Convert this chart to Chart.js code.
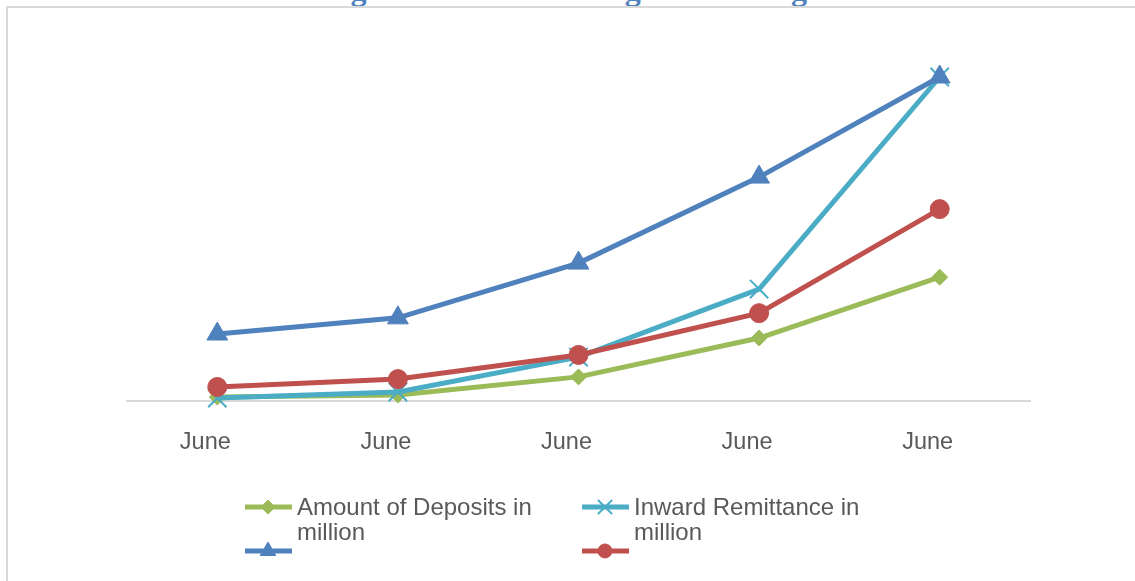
<!DOCTYPE html>
<html>
<head>
<meta charset="utf-8">
<title>Growth of Agent Banking Activities</title>
<script src="https://cdn.jsdelivr.net/npm/chart.js@4.4.1/dist/chart.umd.min.js"></script>
<style>
  html, body { margin: 0; padding: 0; background: #fff; width: 1135px; height: 581px; overflow: hidden; }
  #title { position: absolute; left: 322px; top: -29px; line-height: 36px; font: bold 32px "Liberation Serif", "Times New Roman", serif; color: #4f81bd; white-space: nowrap; }
  #frame { position: absolute; left: 6px; top: 6px; width: 1300px; height: 700px; border-top: 2px solid #d9d9d9; border-left: 2px solid #d9d9d9; background: transparent; }
  #chart { position: absolute; left: 0; top: 0; }
</style>
</head>
<body>
<div id="title">Figure 1: Growth of Agent Banking Activities</div>
<div id="frame"></div>
<canvas id="chart" width="1135" height="581"></canvas>
<script>
// values (no y axis shown, so units are relative)
const categories = ['June', 'June', 'June', 'June', 'June'];
const depositLabel = 'Amount of Deposits in million';
const deposits = [1.1, 1.7, 6.7, 17.5, 34.4];
const remittanceLabel = 'Inward Remittance in million';
const remittance = [0.8, 2.5, 12.2, 31.1, 90];
const blueLabel = '';
const blueValues = [18.6, 23.1, 38.3, 62.2, 90];
const redLabel = '';
const redValues = [3.9, 6.1, 12.8, 24.4, 53.3];
const yMin = 0;
const yMax = 100;

const FONT = '"Liberation Sans", Arial, sans-serif';
const TEXT = '#595959';

// legend slots (Excel style, 2 columns)
const legendSlots = [
  { x: 245, y: 507 },
  { x: 582, y: 507 },
  { x: 245, y: 551 },
  { x: 582, y: 551 }
];

function wrapText(ctx, text, maxW) {
  if (!text) return [];
  const words = text.split(' ');
  const lines = [];
  let cur = '';
  words.forEach((w) => {
    const t = cur ? cur + ' ' + w : w;
    if (ctx.measureText(t).width > maxW && cur) {
      lines.push(cur);
      cur = w;
    } else {
      cur = t;
    }
  });
  if (cur) lines.push(cur);
  return lines;
}

const excelLegend = {
  id: 'excelLegend',
  afterDraw(chart) {
    const ctx = chart.ctx;
    ctx.save();
    ctx.font = '24px ' + FONT;
    ctx.textBaseline = 'middle';
    chart.data.datasets.forEach((ds, i) => {
      const slot = legendSlots[i];
      if (!slot) return;
      ctx.strokeStyle = ds.borderColor;
      ctx.lineWidth = 5;
      ctx.beginPath();
      ctx.moveTo(slot.x, slot.y);
      ctx.lineTo(slot.x + 47, slot.y);
      ctx.stroke();
      ctx.fillStyle = ds.pointBackgroundColor;
      ctx.strokeStyle = ds.pointBorderColor;
      ctx.lineWidth = ds.pointBorderWidth;
      Chart.helpers.drawPoint(ctx, {
        pointStyle: ds.pointStyle,
        rotation: 0,
        radius: ds.legendRadius,
        borderWidth: ds.pointBorderWidth
      }, slot.x + 23, slot.y);
      ctx.fillStyle = TEXT;
      const lines = wrapText(ctx, ds.label, 250);
      lines.forEach((ln, k) => ctx.fillText(ln, slot.x + 52, slot.y + 1 + k * 25));
    });
    ctx.restore();
  }
};

function series(label, data, color, style, radius, legendRadius, order, pbw) {
  return {
    label,
    data,
    borderColor: color,
    backgroundColor: color,
    pointBackgroundColor: color,
    pointBorderColor: color,
    pointBorderWidth: pbw,
    borderWidth: 5,
    pointStyle: style,
    pointRadius: radius,
    pointHoverRadius: radius,
    legendRadius,
    tension: 0,
    clip: false,
    order
  };
}

new Chart(document.getElementById('chart'), {
  type: 'line',
  data: {
    labels: categories,
    datasets: [
      series(depositLabel, deposits, '#9bbb59', 'rectRot', 8, 7, 4, 1),
      series(remittanceLabel, remittance, '#4bacc6', 'crossRot', 13, 10, 3, 2),
      series(blueLabel, blueValues, '#4f81bd', 'triangle', 12, 9, 2, 1),
      series(redLabel, redValues, '#c0504d', 'circle', 9.5, 7, 1, 1)
    ]
  },
  options: {
    responsive: false,
    animation: false,
    devicePixelRatio: 1,
    layout: { padding: { left: 127, right: 105, top: 41, bottom: 120 } },
    plugins: {
      legend: { display: false },
      title: { display: false },
      tooltip: { enabled: false }
    },
    scales: {
      x: {
        offset: true,
        grid: { display: false, drawTicks: false },
        border: { color: '#d9d9d9', width: 2 },
        ticks: { color: TEXT, font: { family: FONT, size: 23.5 }, padding: 27, maxRotation: 0, labelOffset: -12 },
        afterFit(scale) { scale.height = 60; }
      },
      y: {
        display: false,
        min: yMin,
        max: yMax
      }
    }
  },
  plugins: [excelLegend]
});
</script>
</body>
</html>
